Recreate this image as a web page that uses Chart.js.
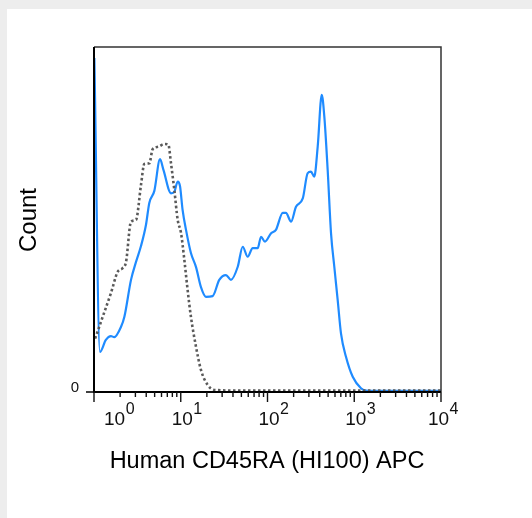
<!DOCTYPE html>
<html>
<head>
<meta charset="utf-8">
<script src="https://cdn.jsdelivr.net/npm/chart.js@4.4.1/dist/chart.umd.min.js"></script>
<style>
html,body{margin:0;padding:0;background:#ffffff;}
#wrap{width:532px;height:518px;position:relative;}
</style>
</head>
<body>
<div id="wrap"><canvas id="c" width="532" height="518"></canvas></div>
<script>
// Stained sample (blue) : fluorescence intensity and count
const stainedX = [1.01,1.17,1.37,1.57,1.71,2.05,2.24,2.67,3.05,3.48,3.97,4.34,4.96,5.77,6.33,7.72,8.43,9.22,9.80,10.5,11.5,13.1,15.0,17.1,19.5,23.3,27.8,33.2,37.9,45.4,51.8,59.1,67.5,77.1,84.2,93.5,110,125,150,163,187,213,255,290,317,346,379,422,452,494,540,589,644,703,803,960,1196,1366,2033,3000,5000,10000];
const stainedY = [96.8,11.6,15.1,16.2,15.9,18.9,21.8,32.5,37.7,42.3,48.4,54.8,58.3,67.5,64.3,57.6,58.0,61.0,59.7,52.8,47.0,40.3,36.2,30.4,27.6,27.8,32.5,33.9,32.5,36.3,42.1,39.2,41.7,41.7,45.0,43.6,46.0,47.0,51.9,51.9,49.4,53.7,56.1,63.4,63.9,62.4,71.1,86.1,79.8,64.3,46.0,36.3,26.7,17.0,10.2,4.4,1.1,0.4,0.3,0.3,0.3,0.3];
// Isotype control (gray dotted)
const controlX = [1.03,1.15,1.26,1.57,1.88,2.14,2.34,2.67,3.05,3.48,3.80,4.34,4.75,5.54,6.46,7.19,7.72,8.43,9.22,10.07,11.0,12.0,13.1,15.0,17.1,20.5,24.4,50,100,1000,10000];
const controlY = [15.5,18.9,21.8,28.7,34.9,35.9,37.7,49.4,49.9,60.0,66.1,66.3,70.4,71.1,71.9,71.7,66.3,58.6,49.9,46.1,38.3,29.6,21.8,13.1,6.4,2.0,0.6,0.4,0.4,0.4,0.4];
// Axis tick labels
const xTickExps = [0,1,2,3,4];
const yTickLabels = ['0'];
const xTitle = 'Human CD45RA (HI100) APC';
const yTitle = 'Count';

const toPts = (xs, ys) => xs.map((x, i) => ({x: x, y: ys[i]}));

const decor = {
  id: 'decor',
  beforeDraw(chart) {
    const ctx = chart.ctx;
    ctx.save();
    ctx.fillStyle = '#ededed';
    ctx.fillRect(0, 0, chart.width, chart.height);
    ctx.fillStyle = '#ffffff';
    ctx.fillRect(7, 9, chart.width - 7, chart.height - 9);
    ctx.restore();
  },
  afterDatasetsDraw(chart) {
    const ctx = chart.ctx;
    const a = chart.chartArea;
    const xs = chart.scales.x, ys = chart.scales.y;
    ctx.save();
    // top & right frame
    ctx.strokeStyle = '#333333';
    ctx.lineWidth = 1.5;
    ctx.beginPath();
    ctx.moveTo(a.left, a.top); ctx.lineTo(a.right, a.top); ctx.lineTo(a.right, a.bottom);
    ctx.stroke();
    // left & bottom axes
    ctx.strokeStyle = '#000000';
    ctx.lineWidth = 2;
    ctx.beginPath();
    ctx.moveTo(a.left, a.top); ctx.lineTo(a.left, a.bottom); ctx.lineTo(a.right, a.bottom);
    ctx.stroke();
    // y tick at 0
    const y0 = ys.getPixelForValue(0);
    ctx.lineWidth = 1.5;
    ctx.beginPath();
    ctx.moveTo(a.left - 8, y0); ctx.lineTo(a.left, y0);
    ctx.stroke();
    // x ticks (log decades with minor ticks)
    ctx.strokeStyle = '#111111';
    ctx.lineWidth = 1.4;
    for (let k = xTickExps[0]; k < xTickExps[xTickExps.length - 1]; k++) {
      for (let m = 1; m <= 9; m++) {
        const px = xs.getPixelForValue(m * Math.pow(10, k));
        const len = m === 1 ? 10 : 5;
        ctx.beginPath(); ctx.moveTo(px, a.bottom); ctx.lineTo(px, a.bottom + len); ctx.stroke();
      }
    }
    const lastPx = xs.getPixelForValue(Math.pow(10, xTickExps[xTickExps.length - 1]));
    ctx.beginPath(); ctx.moveTo(lastPx, a.bottom); ctx.lineTo(lastPx, a.bottom + 10); ctx.stroke();
    // x tick labels 10^k
    ctx.fillStyle = '#111111';
    ctx.textBaseline = 'alphabetic';
    ctx.textAlign = 'left';
    const f1 = '19px "Liberation Sans", Arial, sans-serif';
    const f2 = '16px "Liberation Sans", Arial, sans-serif';
    xTickExps.forEach((k, i) => {
      const px = xs.getPixelForValue(Math.pow(10, k));
      ctx.font = f1;
      const w1 = ctx.measureText('10').width;
      ctx.font = f2;
      const w2 = ctx.measureText(String(k)).width;
      const w = w1 + w2;
      let x0 = px + 6 - w / 2;
      if (i === 0) x0 = px + 10;
      if (i === xTickExps.length - 1) x0 = px + 2 - w / 2;
      ctx.font = f1;
      ctx.fillText('10', x0, a.bottom + 33);
      ctx.font = f2;
      ctx.fillText(String(k), x0 + w1 + 0.5, a.bottom + 22);
    });
    // y tick label
    ctx.font = '15px "Liberation Sans", Arial, sans-serif';
    ctx.textAlign = 'right';
    ctx.fillText(yTickLabels[0], a.left - 15, y0 - 0.5);
    // titles
    ctx.fillStyle = '#000000';
    ctx.font = '500 23.5px "Liberation Sans", Arial, sans-serif';
    ctx.textAlign = 'center';
    ctx.fillText(xTitle, 267, 468);
    ctx.save();
    ctx.translate(29, 220);
    ctx.rotate(-Math.PI / 2);
    ctx.textBaseline = 'middle';
    ctx.font = '24px "Liberation Sans", Arial, sans-serif';
    ctx.fillText(yTitle, 0, 0);
    ctx.restore();
    ctx.restore();
  }
};

new Chart(document.getElementById('c'), {
  type: 'line',
  data: {
    datasets: [
      {
        label: 'Isotype control',
        data: toPts(controlX, controlY),
        borderColor: '#5a5a5a',
        borderWidth: 2.6,
        borderDash: [2.5, 2.5],
        pointRadius: 0,
        cubicInterpolationMode: 'monotone',
        fill: false
      },
      {
        label: 'CD45RA',
        data: toPts(stainedX, stainedY),
        borderColor: '#1f8bff',
        borderWidth: 2.2,
        pointRadius: 0,
        cubicInterpolationMode: 'monotone',
        fill: false
      }
    ]
  },
  options: {
    responsive: false,
    animation: false,
    events: [],
    layout: { padding: { left: 94, top: 47, right: 91, bottom: 126 } },
    plugins: { legend: { display: false }, tooltip: { enabled: false } },
    scales: {
      x: { type: 'logarithmic', min: 1, max: 10000, display: false },
      y: { type: 'linear', min: 0, max: 100, display: false }
    }
  },
  plugins: [decor]
});
</script>
</body>
</html>
